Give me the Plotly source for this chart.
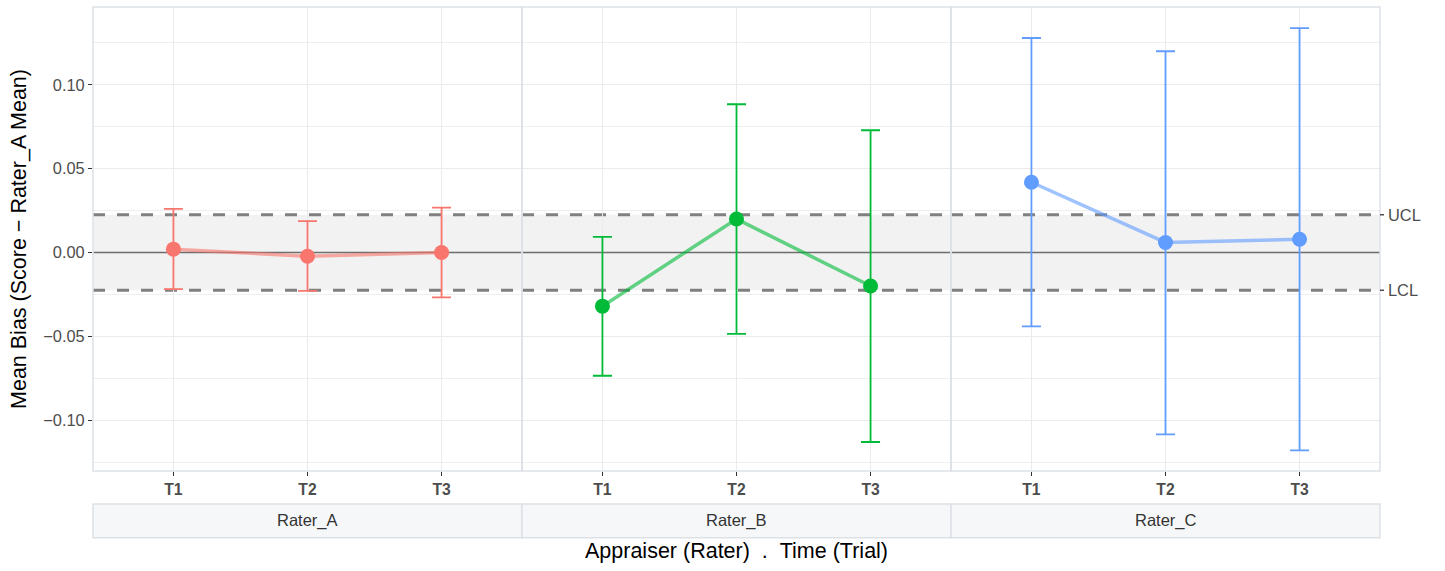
import plotly.graph_objects as go
from plotly.subplots import make_subplots

# ---------------- data ----------------
trials = ["T1", "T2", "T3"]
raters = ["Rater_A", "Rater_B", "Rater_C"]
colors = ["#F8766D", "#00BA38", "#619CFF"]

mean_A = [0.002, -0.0022, 0.0000]
upper_A = [0.0260, 0.0187, 0.0268]
lower_A = [-0.0219, -0.0229, -0.0268]

mean_B = [-0.0320, 0.0200, -0.0200]
upper_B = [0.0093, 0.0884, 0.0729]
lower_B = [-0.0735, -0.0485, -0.1130]

mean_C = [0.0419, 0.0060, 0.0079]
upper_C = [0.1279, 0.1200, 0.1338]
lower_C = [-0.0441, -0.1085, -0.1180]

UCL = 0.0225
LCL = -0.0225
limit_labels = ["UCL", "LCL"]
y_ticks = [-0.10, -0.05, 0.05, 0.10]
y_ticktext = ["\u22120.10", "\u22120.05", "0.05", "0.10"]
y_zero_tick = [0.00]
y_zero_text = ["0.00"]
y_minor = [-0.125, -0.075, -0.025, 0.025, 0.075, 0.125]
Y_RANGE = [-0.1303, 0.1464]

means = [mean_A, mean_B, mean_C]
uppers = [upper_A, upper_B, upper_C]
lowers = [lower_A, lower_B, lower_C]

FONT = "Liberation Sans, Arial, sans-serif"
BORDER = "#DDE1E6"
PLOT_W = 1445 - 93 - 65

fig = make_subplots(rows=1, cols=3, shared_yaxes=True, horizontal_spacing=0)

for i in range(3):
    m, u, l = means[i], uppers[i], lowers[i]
    plus = [uu - mm for uu, mm in zip(u, m)]
    minus = [mm - ll for mm, ll in zip(m, l)]
    fig.add_trace(go.Scatter(x=trials, y=m, mode="lines",
                             line=dict(color=colors[i], width=3.5),
                             opacity=0.6, showlegend=False, hoverinfo="skip"),
                  row=1, col=i + 1)
    fig.add_trace(go.Scatter(x=trials, y=m, mode="markers",
                             marker=dict(color=colors[i], size=15),
                             error_y=dict(type="data", symmetric=False, array=plus,
                                          arrayminus=minus, color=colors[i],
                                          thickness=1.8, width=9.5),
                             showlegend=False, name=raters[i]),
                  row=1, col=i + 1)

    xr = "x" if i == 0 else f"x{i+1}"
    yr = "y" if i == 0 else f"y{i+1}"
    # control band
    fig.add_shape(type="rect", xref=f"{xr} domain", yref=yr, x0=0, x1=1,
                  y0=LCL, y1=UCL, fillcolor="#F2F2F2", line_width=0, layer="below")
    # zero line
    fig.add_shape(type="line", xref=f"{xr} domain", yref=yr, x0=0, x1=1,
                  y0=0, y1=0, line=dict(color="#6E6E6E", width=1.6), layer="below")
    # UCL / LCL dashed
    for v in (UCL, LCL):
        fig.add_shape(type="line", xref=f"{xr} domain", yref=yr, x0=0, x1=1,
                      y0=v, y1=v, line=dict(color="#808080", width=3, dash="12px,12px"),
                      layer="below")
    # panel border
    fig.add_shape(type="rect", xref=f"{xr} domain", yref=f"{yr} domain", x0=0, x1=1,
                  y0=0, y1=1, line=dict(color=BORDER, width=1.5), fillcolor="rgba(0,0,0,0)",
                  layer="above")
    # strip
    fig.add_shape(type="rect", xref=f"{xr} domain", yref="paper", x0=0, x1=1,
                  y0=-0.1437, y1=-0.0711, line=dict(color=BORDER, width=1.5),
                  fillcolor="#F6F7F9", layer="above")
    fig.add_annotation(xref=f"{xr} domain", yref="paper", x=0.5, y=-0.1074,
                       text=raters[i], showarrow=False,
                       font=dict(family=FONT, size=16.5, color="#333333"),
                       xanchor="center", yanchor="middle")

    fig.update_xaxes(row=1, col=i + 1, range=[-0.6, 2.6], showgrid=True,
                     gridcolor="#EBEBEB", gridwidth=1.3, zeroline=False,
                     ticks="outside", ticklen=4, tickwidth=1.3, tickcolor="#333333",
                     tickfont=dict(family=FONT, size=15.7, color="#4D4D4D", weight="bold"),
                     showline=False)
    fig.update_yaxes(row=1, col=i + 1, range=Y_RANGE, tickvals=y_ticks,
                     ticktext=y_ticktext, showgrid=True, gridcolor="#EBEBEB",
                     gridwidth=1.3, zeroline=False,
                     minor=dict(tickvals=y_minor, showgrid=True, gridcolor="#EFEFEF",
                                gridwidth=1.1),
                     showline=False)

fig.update_yaxes(row=1, col=1, ticks="outside", ticklen=4, tickwidth=1.3,
                 tickcolor="#333333",
                 tickfont=dict(family=FONT, size=16.4, color="#4D4D4D"),
                 title=dict(text="Mean Bias (Score \u2212 Rater_A Mean)",
                            font=dict(family=FONT, size=21.5, color="#000000"),
                            standoff=10))

# overlay axis carrying the 0.00 label (so no gridline hides the zero reference line)
fig.update_layout(yaxis4=dict(overlaying="y", anchor="x", side="left",
                              range=Y_RANGE, tickvals=y_zero_tick, ticktext=y_zero_text,
                              ticks="outside", ticklen=4, tickwidth=1.3,
                              tickcolor="#333333", showgrid=False, zeroline=False,
                              showline=False,
                              tickfont=dict(family=FONT, size=16.4, color="#4D4D4D")))
fig.add_trace(go.Scatter(x=[None], y=[None], xaxis="x", yaxis="y4",
                         showlegend=False, hoverinfo="skip"))

# UCL / LCL labels on the right of the last panel
for v, lab in zip((UCL, LCL), limit_labels):
    fig.add_shape(type="line", xref="paper", yref="y3", x0=1, x1=1 + 4 / PLOT_W,
                  y0=v, y1=v, line=dict(color="#333333", width=1.3), layer="above")
    fig.add_annotation(xref="paper", yref="y3", x=1 + 6 / PLOT_W, y=v, text=lab,
                       showarrow=False, xanchor="left", yanchor="middle",
                       font=dict(family=FONT, size=16.4, color="#4D4D4D"))

fig.add_annotation(xref="paper", yref="paper", x=0.5, y=-0.172,
                   text="Appraiser (Rater)\u00a0\u00a0.\u00a0\u00a0Time (Trial)",
                   showarrow=False, xanchor="center", yanchor="middle",
                   font=dict(family=FONT, size=21.5, color="#000000"))

fig.update_layout(width=1445, height=571,
                  margin=dict(l=93, r=65, t=7, b=100),
                  paper_bgcolor="white", plot_bgcolor="white",
                  font=dict(family=FONT), showlegend=False)

fig.write_html("out.html")
